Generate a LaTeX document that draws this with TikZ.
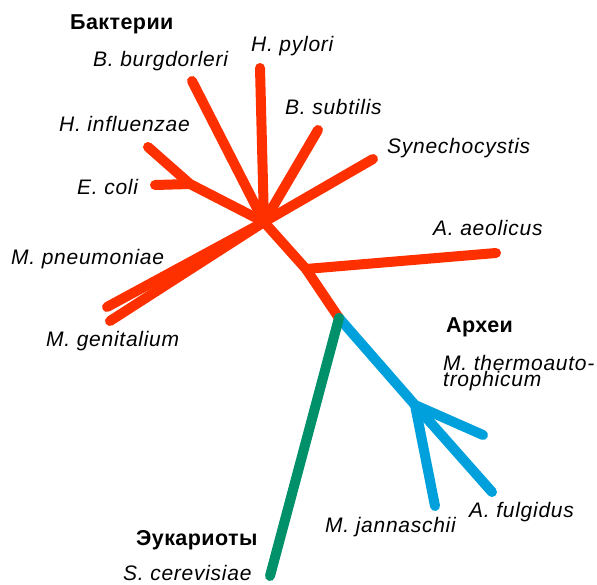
\documentclass[tikz,border=0pt]{standalone}
\usepackage{fontspec}
\setmainfont{Liberation Sans}
\newfontfamily\spfont[LetterSpace=3.5]{Liberation Sans}
\newfontfamily\grpfont[LetterSpace=2]{Liberation Sans}
\definecolor{bacred}{HTML}{FF3000}
\definecolor{archblue}{HTML}{00A0DC}
\definecolor{eukgreen}{HTML}{00916A}
\begin{document}
\begin{tikzpicture}[x=1pt,y=-1pt,
  branch/.style={line width=10pt,line cap=round,line join=round},
  sp/.style={anchor=base west,inner sep=0pt,font=\spfont\fontsize{21}{16}\selectfont\itshape},
  grp/.style={anchor=base west,inner sep=0pt,font=\grpfont\fontsize{21.5}{21.5}\selectfont\bfseries}]
\useasboundingbox (0,0) rectangle (597,585);
% coordinates
\coordinate (hub) at (264,222);
\coordinate (ec) at (190,184);
\coordinate (aq) at (306,269);
\coordinate (root) at (339,318);
\coordinate (arc) at (415,405);
\coordinate (lHp) at (260,68);
\coordinate (lBb) at (192,81);
\coordinate (lHi) at (148,147);
\coordinate (lEc) at (155,185);
\coordinate (lBs) at (318,130);
\coordinate (lSy) at (373,159);
\coordinate (lAa) at (496,253);
\coordinate (lMp) at (107,307);
\coordinate (lMg) at (110,321);
\coordinate (lMt) at (483,435);
\coordinate (lAf) at (492,492);
\coordinate (lMj) at (435,506);
\coordinate (lSc) at (270,576);
% bacteria
\draw[branch,bacred] (hub) -- (lHp);
\draw[branch,bacred] (hub) -- (lBb);
\draw[branch,bacred] (hub) -- (ec) -- (lHi);
\draw[branch,bacred] (ec) -- (lEc);
\draw[branch,bacred] (hub) -- (lBs);
\draw[branch,bacred] (hub) -- (lSy);
\draw[branch,bacred] (hub) -- (lMp);
\draw[branch,bacred] (hub) -- (lMg);
\draw[branch,bacred] (hub) -- (aq) -- (root);
\draw[branch,bacred] (aq) -- (lAa);
% archaea
\draw[branch,archblue] (root) -- (arc) -- (lMt);
\draw[branch,archblue] (arc) -- (lAf);
\draw[branch,archblue] (arc) -- (lMj);
% eukaryotes
\draw[branch,eukgreen] (root) -- (lSc);
% labels
\node[grp] (tB) at (70,30) {Бактерии};
\node[grp] (tA) at (446,333) {Археи};
\node[grp] (tE) at (136,545) {Эукариоты};
\node[sp] (nBb) at (93,67) {B. burgdorleri};
\node[sp] (nHp) at (251,52) {H. pylori};
\node[sp] (nBs) at (285,115) {B. subtilis};
\node[sp] (nSy) at (387,154) {Synechocystis};
\node[sp] (nHi) at (59,132) {H. influenzae};
\node[sp] (nEc) at (77,195) {E. coli};
\node[sp] (nAa) at (433,236) {A. aeolicus};
\node[sp] (nMp) at (11,265) {M. pneumoniae};
\node[sp] (nMg) at (46,346) {M. genitalium};
\node[sp,align=left] (nMt) at (443,386) {M. thermoauto-\\trophicum};
\node[sp] (nAf) at (469,517) {A. fulgidus};
\node[sp] (nMj) at (325,532) {M. jannaschii};
\node[sp] (nSc) at (123,580) {S. cerevisiae};
\end{tikzpicture}
\end{document}
